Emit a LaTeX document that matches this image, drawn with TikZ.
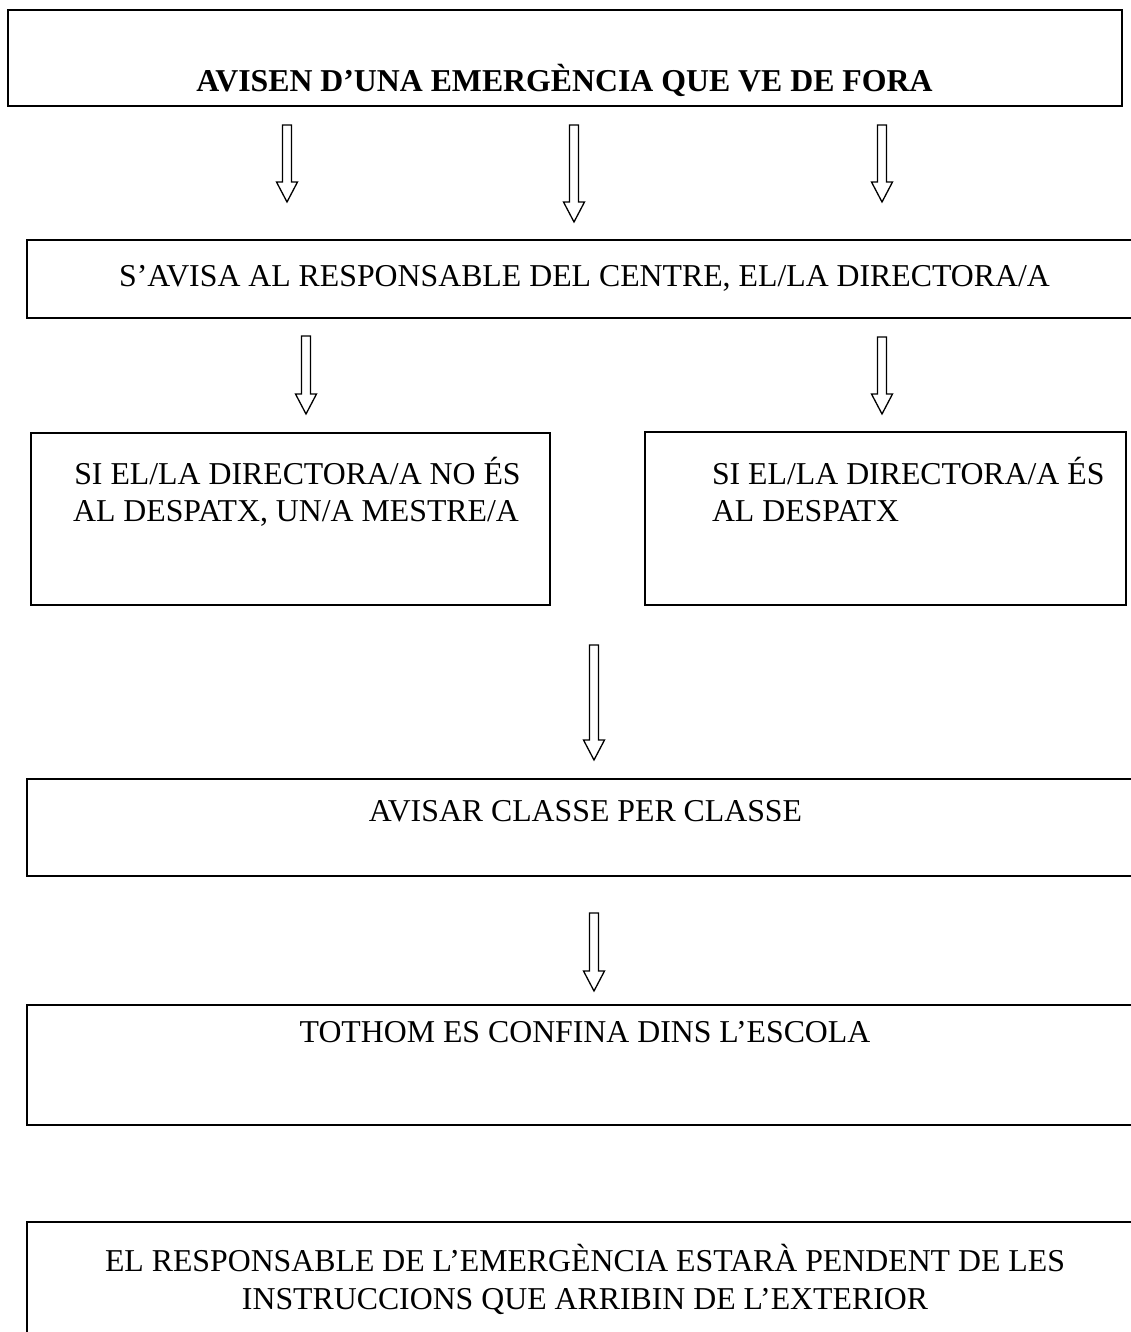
\documentclass[tikz,border=0pt]{standalone}
\usepackage{fontspec}
\setmainfont{Liberation Serif}
\newcommand{\hollowarrow}[3]{\draw[arrowline] (#1-4.5,#2) -- (#1+4.5,#2) -- (#1+4.5,#3-20) -- (#1+10.5,#3-20) -- (#1,#3) -- (#1-10.5,#3-20) -- (#1-4.5,#3-20) -- cycle;}
\begin{document}
\begin{tikzpicture}[x=1pt,y=-1pt,
  box/.style={draw=black, line width=1.8pt, rectangle, inner sep=0pt, outer sep=0pt},
  arrowline/.style={draw=black, line width=1.3pt, line join=miter, fill=white},
  txt/.style={inner sep=0pt, outer sep=0pt, font=\fontsize{31.8pt}{37pt}\selectfont}]
\useasboundingbox (0,0) rectangle (1131,1332);
\clip (0,0) rectangle (1131,1332);
\fill[white] (0,0) rectangle (1131,1332);
% boxes
\node[box, minimum width=1114pt, minimum height=96pt] (b1) at (565,58) {};
\node[box, minimum width=1118pt, minimum height=78pt] (b2) at (586,279) {};
\node[box, minimum width=519pt, minimum height=172pt] (b3) at (290.5,519) {};
\node[box, minimum width=481pt, minimum height=173pt] (b4) at (885.5,518.5) {};
\node[box, minimum width=1118pt, minimum height=97pt] (b5) at (586,827.5) {};
\node[box, minimum width=1118pt, minimum height=120pt] (b6) at (586,1065) {};
\node[box, minimum width=1118pt, minimum height=138pt] (b7) at (586,1291) {};
% texts
\node[txt, anchor=base, font=\fontsize{31.8pt}{37pt}\selectfont\bfseries] (t1) at (564.5,92) {AVISEN D’UNA EMERGÈNCIA QUE VE DE FORA};
\node[txt, anchor=base] (t2) at (584.5,286) {S’AVISA AL RESPONSABLE DEL CENTRE, EL/LA DIRECTORA/A};
\node[txt, anchor=base] (t3a) at (297.5,484) {SI EL/LA DIRECTORA/A NO ÉS};
\node[txt, anchor=base] (t3b) at (296,521) {AL DESPATX, UN/A MESTRE/A};
\node[txt, anchor=base west] (t4a) at (712,484) {SI EL/LA DIRECTORA/A ÉS};
\node[txt, anchor=base west] (t4b) at (712,521) {AL DESPATX};
\node[txt, anchor=base] (t5) at (585.5,821) {AVISAR CLASSE PER CLASSE};
\node[txt, anchor=base] (t6) at (585,1042) {TOTHOM ES CONFINA DINS L’ESCOLA};
\node[txt, anchor=base] (t7a) at (585,1271) {EL RESPONSABLE DE L’EMERGÈNCIA ESTARÀ PENDENT DE LES};
\node[txt, anchor=base] (t7b) at (585,1309) {INSTRUCCIONS QUE ARRIBIN DE L’EXTERIOR};
% arrows
\hollowarrow{287}{125}{202}
\hollowarrow{574}{125}{222}
\hollowarrow{882}{125}{202}
\hollowarrow{306}{336}{414}
\hollowarrow{882}{337}{414}
\hollowarrow{594}{645}{760}
\hollowarrow{594}{913}{991}
\end{tikzpicture}
\end{document}
